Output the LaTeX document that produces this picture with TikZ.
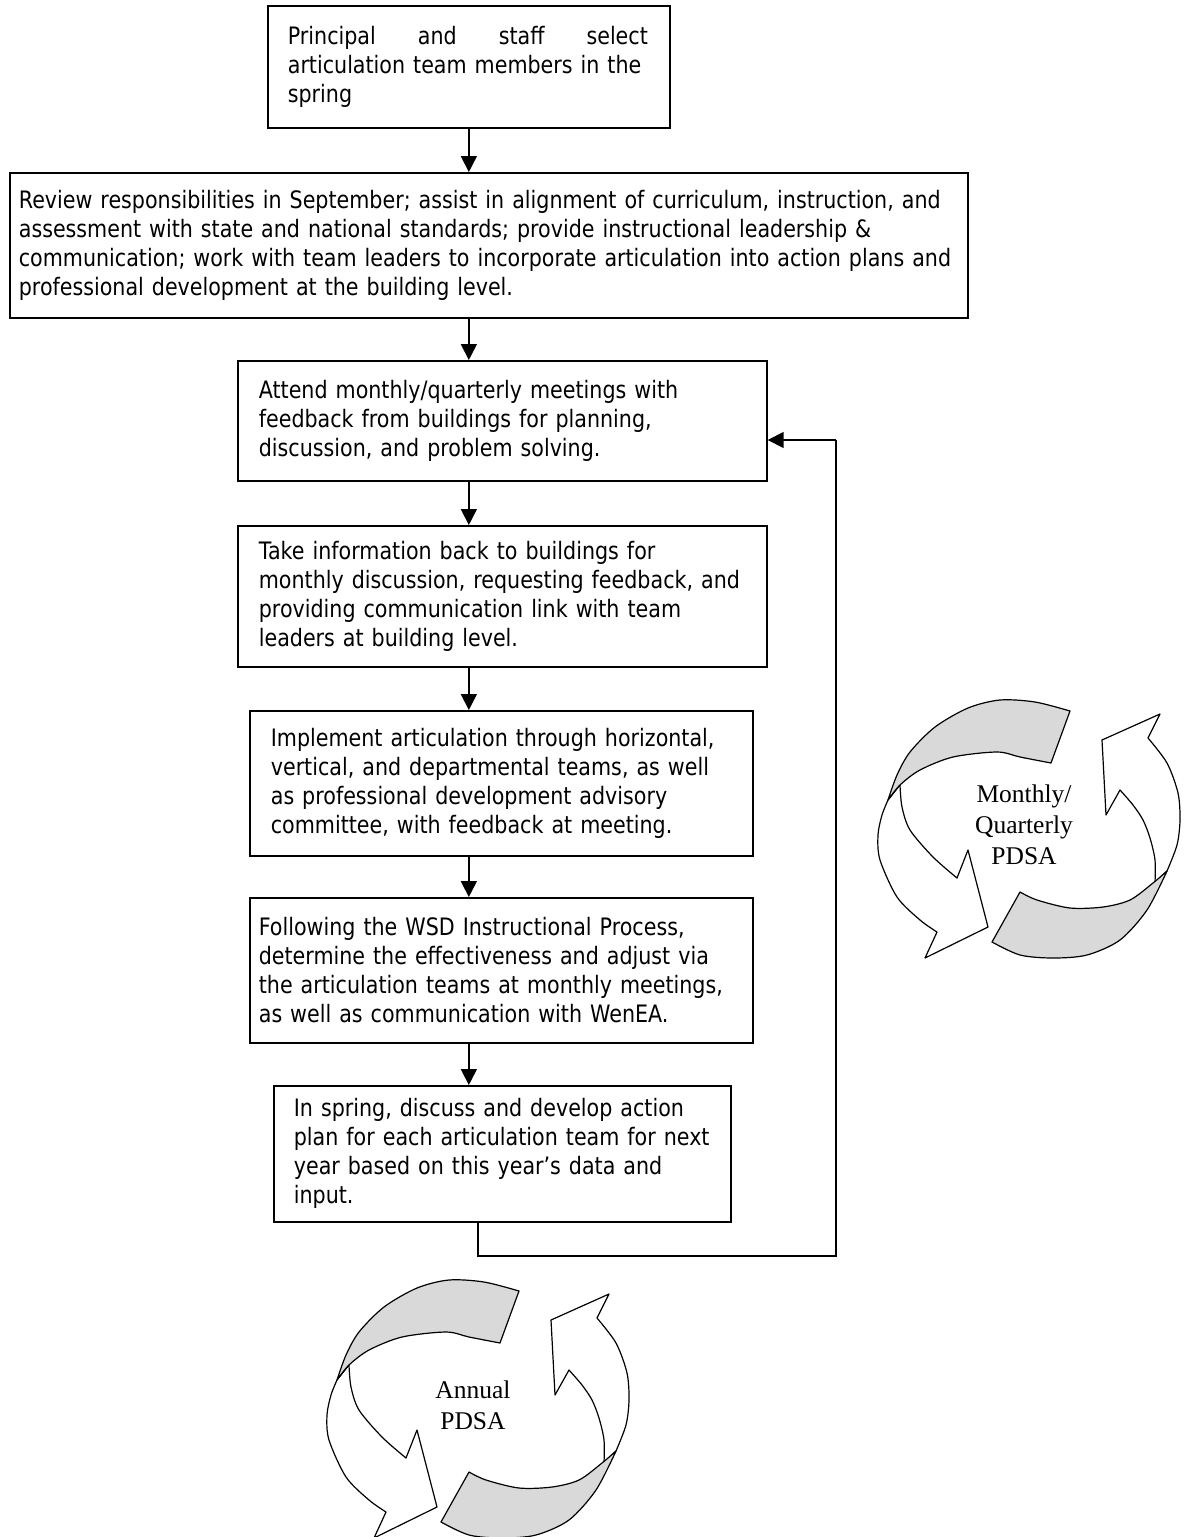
\documentclass[tikz,border=0pt]{standalone}
\usepackage{fontspec}
\setmainfont{DejaVu Sans}[FakeStretch=0.86]
\newfontfamily\timesfont{Liberation Serif}
\usetikzlibrary{arrows.meta}
\tikzset{
  flowbox/.style={draw, line width=1.7pt, anchor=north west, align=left, inner ysep=0pt,
    font=\fontsize{24}{29}\selectfont},
  link/.style={line width=1.7pt, -{Triangle[length=16pt,width=16pt]}},
  loopline/.style={line width=1.7pt},
  cyc/.style={line width=1.2pt, line join=round},
  cycwhite/.style={cyc, draw=black, fill=white},
  cycgray/.style={cyc, draw=black, fill=black!15},
  cyctext/.style={align=center, anchor=base, inner sep=0pt, font=\timesfont\fontsize{25.5}{31}\selectfont},
}
\newcommand\pdsacycle{%
  \filldraw[cycwhite] plot[smooth] coordinates {(900,785) (902,807) (910,830) (933,857) (957,878)}
    -- (968,850) -- (988,927) -- (925,958) -- (937,932)
    -- plot[smooth] coordinates {(937,932) (920,920) (897,897) (880,860) (878,835) (882,815) (888,800)} -- cycle;
  \filldraw[cycgray] plot[smooth] coordinates {(1070,711) (1035,702) (1000,700) (968,708) (935,727) (910,752) (897,775) (888,800)}
    -- plot[smooth] coordinates {(888,800) (900,785) (920,770) (953,757) (997,752) (1020,757) (1051,763)} -- cycle;
  \filldraw[cycwhite] plot[smooth] coordinates {(1155,883) (1155,860) (1150,838) (1143,820) (1133,805) (1120,790)}
    -- (1106,815) -- (1102,740) -- (1160,714) -- (1148,738)
    -- plot[smooth] coordinates {(1148,738) (1167,763) (1178,793) (1180,820) (1177,845) (1167,871)} -- cycle;
  \filldraw[cycgray] plot[smooth] coordinates {(1020,892) (1037,900) (1070,908) (1103,907) (1130,900) (1153,883) (1167,871)}
    -- plot[smooth] coordinates {(1167,871) (1147,910) (1120,940) (1087,955) (1053,958) (1020,955) (992,942)} -- cycle;
}
\begin{document}
\begin{tikzpicture}[x=1pt,y=-1pt]
\useasboundingbox[fill=white] (0,0) rectangle (1187,1537);

\node[flowbox, minimum width=402pt, minimum height=122pt, text width=362pt, inner xsep=20pt] (b1) at (267,5)
  {\makebox[360pt][l]{Principal\hfill and\hfill staff\hfill select}\\articulation team members in the\\spring};
\node[flowbox, minimum width=958pt, minimum height=145pt, text width=940pt, inner xsep=9pt] (b2) at (9,172)
  {Review responsibilities in September; assist in alignment of curriculum, instruction, and\\
   assessment with state and national standards; provide instructional leadership \&\\
   communication; work with team leaders to incorporate articulation into action plans and\\
   professional development at the building level.};
\node[flowbox, minimum width=529pt, minimum height=120pt, text width=487pt, inner xsep=21pt] (b3) at (237,360)
  {Attend monthly/quarterly meetings with\\feedback from buildings for planning,\\discussion, and problem solving.};
\node[flowbox, minimum width=529pt, minimum height=141pt, text width=487pt, inner xsep=21pt] (b4) at (237,525)
  {Take information back to buildings for\\monthly discussion, requesting feedback, and\\providing communication link with team\\leaders at building level.};
\node[flowbox, minimum width=503pt, minimum height=145pt, text width=461pt, inner xsep=21pt] (b5) at (249,710)
  {Implement articulation through horizontal,\\vertical, and departmental teams, as well\\as professional development advisory\\committee, with feedback at meeting.};
\node[flowbox, minimum width=503pt, minimum height=145pt, text width=485pt, inner xsep=9pt] (b6) at (249,897)
  {Following the WSD Instructional Process,\\determine the effectiveness and adjust via\\the articulation teams at monthly meetings,\\as well as communication with WenEA.};
\node[flowbox, minimum width=457pt, minimum height=136pt, text width=417pt, inner xsep=20pt] (b7) at (273,1085)
  {In spring, discuss and develop action\\plan for each articulation team for next\\year based on this year’s data and\\input.};

\draw[link] (b1.south) -- (b1.south |- b2.north);
\draw[link] (b2.south -| b1.south) -- (b3.north -| b1.south);
\draw[link] (b3.south -| b1.south) -- (b4.north -| b1.south);
\draw[link] (b4.south -| b1.south) -- (b5.north -| b1.south);
\draw[link] (b5.south -| b1.south) -- (b6.north -| b1.south);
\draw[link] (b6.south -| b1.south) -- (b7.north -| b1.south);

\coordinate (l1) at (478,1256);
\coordinate (l2) at (836,1256);
\coordinate (l3) at (836,440);
\draw[loopline] (b7.south -| l1) -- (l1) -- (l2) -- (l3);
\draw[link] (l3) -- (l3 -| b3.east);

\begin{scope}
  \pdsacycle
\end{scope}
\node[cyctext] (monthly) at (1024,864) {Monthly/\\Quarterly\\PDSA};
\begin{scope}[shift={(-551,580)}]
  \pdsacycle
\end{scope}
\node[cyctext] (annual) at (473,1429) {Annual\\PDSA};
\end{tikzpicture}
\end{document}
